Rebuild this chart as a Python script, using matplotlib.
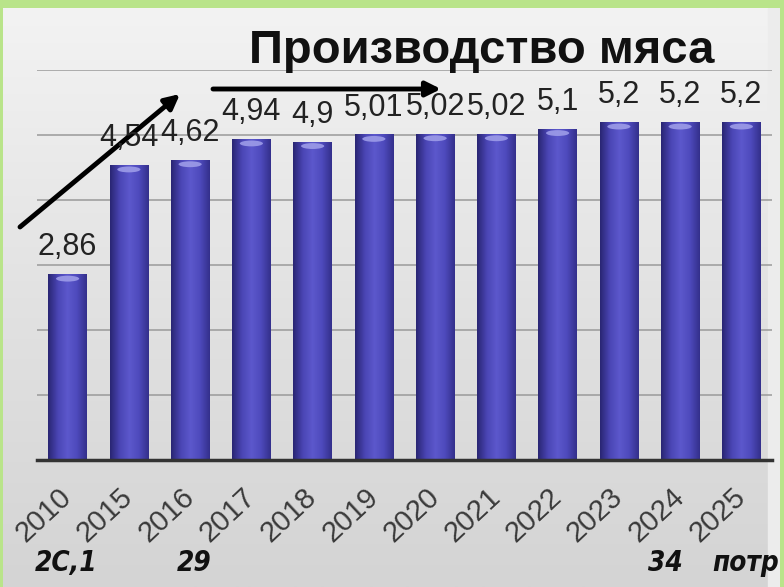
import numpy as np
import matplotlib
matplotlib.use('Agg')
import matplotlib.pyplot as plt
from matplotlib.colors import LinearSegmentedColormap
from matplotlib.patches import Ellipse

# === DATA ===
years = ["2010", "2015", "2016", "2017", "2018", "2019",
         "2020", "2021", "2022", "2023", "2024", "2025"]
values = [2.86, 4.54, 4.62, 4.94, 4.9, 5.01, 5.02, 5.02, 5.1, 5.2, 5.2, 5.2]
value_labels = ["2,86", "4,54", "4,62", "4,94", "4,9", "5,01",
                "5,02", "5,02", "5,1", "5,2", "5,2", "5,2"]
title = "Производство мяса"
bottom_notes = [("2С,1", 66), ("29", 194), ("34", 665), ("потр", 712)]

W, H = 784, 587
plt.rcParams['font.family'] = ['Liberation Sans', 'DejaVu Sans']

fig = plt.figure(figsize=(W / 100, H / 100), dpi=100)
fig.patch.set_facecolor('#b9e48a')

# === PANEL BACKGROUND ===
bg = fig.add_axes([3 / W, 0, (780 - 3) / W, (H - 8) / H])
bg.set_axis_off()
grad = np.linspace(0, 1, 256).reshape(-1, 1)
bg_cmap = LinearSegmentedColormap.from_list('bg', ['#f3f3f3', '#e2e2e2', '#d4d4d4'])
bg.imshow(grad, aspect='auto', cmap=bg_cmap, extent=[0, 1, 0, 1], origin='upper')
bg.axvspan(0.985, 1.0, color='#ececec')
bg.set_xlim(0, 1)
bg.set_ylim(0, 1)

# === MAIN CHART ===
ax = fig.add_axes([37 / W, (H - 460) / H, (772 - 37) / W, (460 - 70) / H])
ax.patch.set_alpha(0)
x = np.arange(len(years))
bars = ax.bar(x, values, width=0.63, color='none', zorder=3)

bar_cmap = LinearSegmentedColormap.from_list(
    'bar', ['#2a2674', '#4a45b4', '#5c58cc', '#4e4abc', '#34308c'])
hgrad = np.linspace(0, 1, 64).reshape(1, -1)
for rect in bars:
    x0, w, h = rect.get_x(), rect.get_width(), rect.get_height()
    im = ax.imshow(hgrad, aspect='auto', cmap=bar_cmap,
                   extent=[x0, x0 + w, 0, h], zorder=3)
    im.set_clip_path(rect)
    ax.add_patch(Ellipse((x0 + w / 2, h - 0.07), w * 0.6, 0.09,
                         color='#9d9ce8', alpha=0.9, zorder=4, lw=0))

for xi, v, lab in zip(x, values, value_labels):
    ax.annotate(lab, (xi, v), xytext=(0, 13.5), textcoords='offset points',
                ha='center', va='baseline', fontsize=22, color='#222222',
                zorder=6)

ax.set_xlim(-0.5, len(years) - 0.5)
ax.set_ylim(0, 6)
ax.set_yticks(range(0, 7))
ax.yaxis.grid(True, color='#9a9a9a', linewidth=1.1)
ax.set_axisbelow(True)
ax.tick_params(axis='y', left=False, labelleft=False)
for s in ['top', 'right', 'left']:
    ax.spines[s].set_visible(False)
ax.spines['bottom'].set_color('#333333')
ax.spines['bottom'].set_linewidth(2.5)
ax.spines['bottom'].set_zorder(5)

ax.set_xticks(x)
ax.set_xticklabels(years, rotation=43, ha='right', va='center',
                   rotation_mode='anchor', fontsize=21, color='#3a3a3a')
ax.tick_params(axis='x', length=0, pad=24)

# === TITLE ===
fig.text(482 / W, 1 - 63 / H, title, ha='center', va='baseline',
         fontsize=34, fontweight='bold', color='#111111')

# === ARROWS ===
ax.annotate('', xy=(180 / W, 1 - 94 / H), xytext=(20 / W, 1 - 227 / H),
            xycoords='figure fraction', textcoords='figure fraction',
            arrowprops=dict(arrowstyle='-|>', color='black', lw=3.5,
                            mutation_scale=22, shrinkA=0, shrinkB=0))
ax.annotate('', xy=(441 / W, 1 - 89 / H), xytext=(213 / W, 1 - 89 / H),
            xycoords='figure fraction', textcoords='figure fraction',
            arrowprops=dict(arrowstyle='-|>', color='black', lw=3.5,
                            mutation_scale=22, shrinkA=0, shrinkB=0))

# === BOTTOM NOTES (the last one is cut by the slide edge, as in the source) ===
for txt, px in bottom_notes:
    fig.text(px / W, 1 - 563 / H, txt, ha='center' if txt != "потр" else 'left',
             va='center', fontsize=20, fontweight='bold', fontstyle='italic',
             color='#111111', family=['DejaVu Sans'], fontstretch='condensed')

fig.savefig('out.png', dpi=100, facecolor=fig.get_facecolor())
